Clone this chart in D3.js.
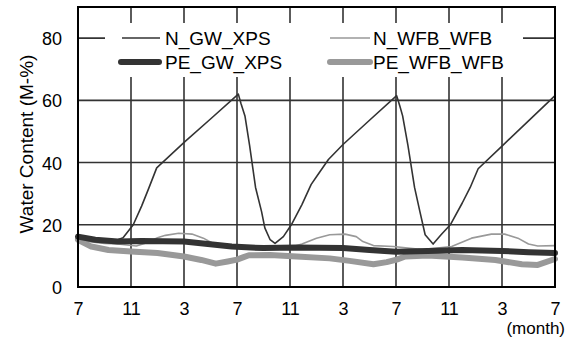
<!DOCTYPE html>
<html>
<head>
<meta charset="utf-8">
<script src="https://cdn.jsdelivr.net/npm/d3@7/dist/d3.min.js"></script>
<style>
  html, body { margin: 0; padding: 0; background: #fff; }
  svg { display: block; font-family: "Liberation Sans", Arial, sans-serif; }
</style>
</head>
<body>
<svg id="chart" width="575" height="338"></svg>
<script>
// ---- data (months since start, July = 0) ----
const tickMonths = [0, 4, 8, 12, 16, 20, 24, 28, 32, 36];
const tickLabels = ["7", "11", "3", "7", "11", "3", "7", "11", "3", "7"];
const yTicks = [0, 20, 40, 60, 80];

const nGwT = [0, 1, 2, 3, 3.4, 4.17, 4.8, 5.3, 5.94, 8.07, 10, 12.1, 12.3, 12.6, 12.95, 13.4, 13.85, 14.1, 14.5, 14.87, 15.5, 16.1, 16.9, 17.6, 18.1, 18.9, 20, 22, 24.05, 24.3, 24.5, 24.9, 25.4, 25.8, 26.2, 26.8, 27.4, 28.1, 29, 29.6, 30.2, 32, 34, 36];
const nGwV = [15.5, 15.2, 15, 15.2, 15.8, 20, 26, 31.3, 38.3, 46.7, 54, 62, 59, 55, 45.5, 32, 24.3, 19, 15.2, 14, 16.2, 20, 26.5, 33, 36.1, 41, 45.8, 53.6, 61.5, 58, 55, 45.5, 32, 24.3, 16.8, 13.8, 16.8, 20, 27, 32, 38, 45.3, 53.4, 61.5];

const nWfbT = [0, 1, 2, 3, 4.4, 5.2, 6, 6.6, 7.6, 8.6, 9.46, 10.2, 11, 12, 14, 16, 16.9, 18, 19, 20.15, 21, 21.5, 22.3, 23.8, 26, 28.2, 29.7, 31.2, 32.2, 33.2, 34, 34.7, 36];
const nWfbV = [15, 14.5, 14, 13.8, 13.2, 14.2, 15.8, 16.6, 17.3, 17, 15.7, 14, 13.3, 12.8, 12.6, 12.7, 13.8, 15.7, 16.8, 17, 16.2, 14.6, 13.3, 13, 12, 13, 15.7, 17, 17, 15.7, 13.8, 13.2, 13.3];

const peGwT = [0, 1.3, 3, 4.8, 8, 9.8, 11.6, 14, 16.5, 20, 22, 24, 26.4, 29, 32, 34, 36];
const peGwV = [16.2, 15.2, 14.6, 14.8, 14.6, 13.8, 13, 12.5, 12.7, 12.5, 11.9, 11.3, 11.6, 11.9, 11.6, 11.2, 10.9];

const peWfbT = [0, 1, 2.3, 4, 6, 8, 9.3, 10.4, 11.3, 12, 12.5, 12.9, 14.5, 16.5, 19, 20.5, 22.3, 23.3, 24.05, 24.7, 26.4, 29, 31.5, 33.5, 34.7, 36];
const peWfbV = [15.2, 13, 11.9, 11.4, 10.9, 9.8, 8.7, 7.5, 8.2, 8.8, 9.6, 10.2, 10.3, 9.8, 9.2, 8.4, 7.3, 8, 8.8, 9.8, 10.1, 9.5, 8.7, 7.3, 7.1, 9];

const seriesNames = ["N_GW_XPS", "N_WFB_WFB", "PE_GW_XPS", "PE_WFB_WFB"];

// ---- layout ----
const svg = d3.select("#chart");
const L = 78, R = 555, T = 7, B = 287;
const x = d3.scaleLinear().domain([0, 36]).range([L, R]);
const y = d3.scaleLinear().domain([0, 90]).range([B, T]);

// grid
const grid = svg.append("g").attr("stroke", "#333").attr("stroke-width", 1.6);
grid.selectAll("line.v").data(tickMonths.slice(1, -1)).enter().append("line")
  .attr("x1", d => x(d)).attr("x2", d => x(d)).attr("y1", T).attr("y2", B);
grid.selectAll("line.h").data(yTicks.slice(1)).enter().append("line")
  .attr("x1", L).attr("x2", R).attr("y1", d => y(d)).attr("y2", d => y(d));

// legend background
svg.append("rect").attr("x", 105).attr("y", 23).attr("width", 418).attr("height", 54).attr("fill", "#fff");

// series
function mk(ts, vs) { return ts.map((t, i) => [t, vs[i]]); }
const line = d3.line().x(d => x(d[0])).y(d => y(d[1]));
const series = [
  { data: mk(nWfbT, nWfbV), color: "#999", w: 1.6 },
  { data: mk(nGwT, nGwV), color: "#333", w: 1.6 },
  { data: mk(peWfbT, peWfbV), color: "#999", w: 6 },
  { data: mk(peGwT, peGwV), color: "#333", w: 6 }
];
series.forEach(s => {
  svg.append("path").datum(s.data).attr("d", line)
    .attr("fill", "none").attr("stroke", s.color).attr("stroke-width", s.w)
    .attr("stroke-linejoin", "round").attr("stroke-linecap", "round");
});

// frame
svg.append("rect").attr("x", L).attr("y", T).attr("width", R - L).attr("height", B - T)
  .attr("fill", "none").attr("stroke", "#000").attr("stroke-width", 2);

// axes (library axes, styled to match)
const xAxis = d3.axisBottom(x).tickValues(tickMonths).tickSize(0).tickPadding(0)
  .tickFormat((d, i) => tickLabels[i]);
const gx = svg.append("g").attr("transform", `translate(0,${B})`).call(xAxis);
gx.select(".domain").remove();
gx.selectAll("text").attr("dy", null).attr("y", 27.5).attr("font-size", 18)
  .attr("fill", "#000").attr("font-family", "'Liberation Sans', Arial, sans-serif");

const yAxis = d3.axisLeft(y).tickValues(yTicks).tickSize(0).tickPadding(16);
const gy = svg.append("g").attr("transform", `translate(${L},0)`).call(yAxis);
gy.select(".domain").remove();
gy.selectAll("text").attr("font-size", 18).attr("dy", "0.36em")
  .attr("fill", "#000").attr("font-family", "'Liberation Sans', Arial, sans-serif");

// axis titles
svg.append("text").attr("transform", "translate(33,144) rotate(-90)")
  .attr("text-anchor", "middle").attr("font-size", 19).text("Water Content (M-%)");
svg.append("text").attr("x", 565).attr("y", 334).attr("text-anchor", "end")
  .attr("font-size", 17).text("(month)");

// legend
const leg = [
  { name: seriesNames[0], x1: 122, x2: 160, tx: 165, ly: 38, color: "#333", w: 1.6 },
  { name: seriesNames[2], x1: 121, x2: 159, tx: 165, ly: 62, color: "#333", w: 6 },
  { name: seriesNames[1], x1: 330, x2: 370, tx: 373, ly: 38, color: "#999", w: 1.6 },
  { name: seriesNames[3], x1: 330, x2: 370, tx: 373, ly: 62, color: "#999", w: 6 }
];
leg.forEach(e => {
  svg.append("line").attr("x1", e.x1).attr("x2", e.x2).attr("y1", e.ly).attr("y2", e.ly)
    .attr("stroke", e.color).attr("stroke-width", e.w).attr("stroke-linecap", e.w > 3 ? "round" : "butt");
  svg.append("text").attr("x", e.tx).attr("y", e.ly).attr("dy", "0.36em")
    .attr("font-size", 19).text(e.name);
});
</script>
</body>
</html>
